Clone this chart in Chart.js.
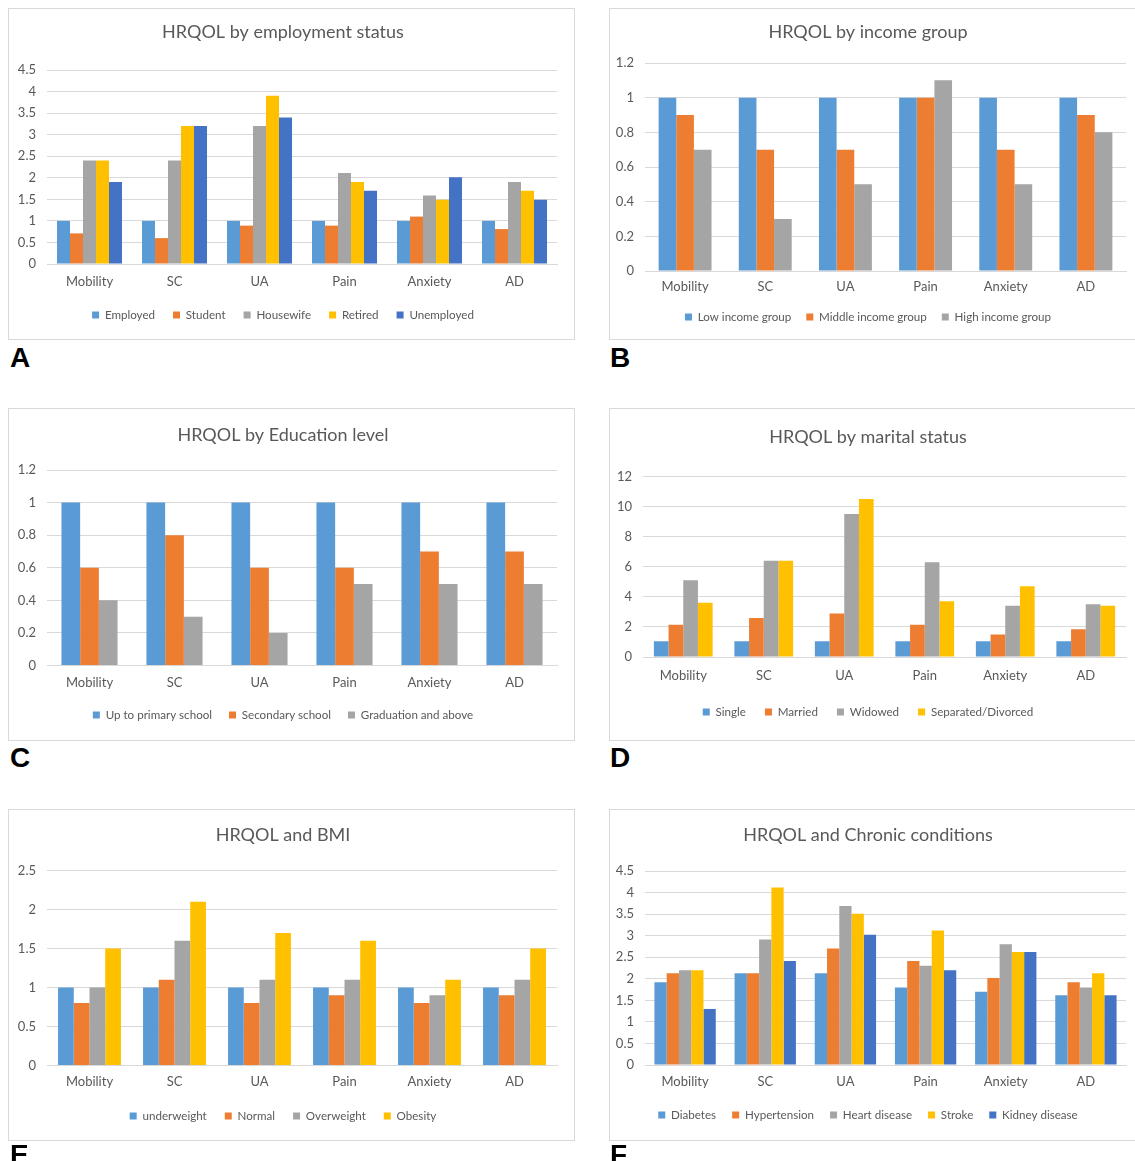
<!DOCTYPE html>
<html><head><meta charset="utf-8">
<script src="https://cdn.jsdelivr.net/npm/chart.js@4.4.0/dist/chart.umd.min.js"></script>
<style>
html,body{margin:0;padding:0;background:#fff;overflow:hidden;width:1135px;height:1161px;}
.panel{position:absolute;border:1px solid #d9d9d9;box-sizing:border-box;background:#fff;}
.panel canvas{display:block;}
.lab{position:absolute;font:bold 28px 'Liberation Sans',Arial,sans-serif;color:#000;line-height:28px;}
</style></head><body>
<div class="panel" id="pA"><canvas id="cA"></canvas></div>
<div class="panel" id="pB"><canvas id="cB"></canvas></div>
<div class="panel" id="pC"><canvas id="cC"></canvas></div>
<div class="panel" id="pD"><canvas id="cD"></canvas></div>
<div class="panel" id="pE"><canvas id="cE"></canvas></div>
<div class="panel" id="pF"><canvas id="cF"></canvas></div>
<div class="lab" style="left:10px;top:344px">A</div>
<div class="lab" style="left:610px;top:344px">B</div>
<div class="lab" style="left:10px;top:744px">C</div>
<div class="lab" style="left:610px;top:744px">D</div>
<div class="lab" style="left:10px;top:1141px">E</div>
<div class="lab" style="left:610px;top:1141px">F</div>
<script>
// ---------- data ----------
const categories = ['Mobility', 'SC', 'UA', 'Pain', 'Anxiety', 'AD'];

// A: employment status
const employmentGroups = ['Employed', 'Student', 'Housewife', 'Retired', 'Unemployed'];
const employed   = [1, 1, 1, 1, 1, 1];
const student    = [0.71, 0.6, 0.89, 0.89, 1.1, 0.81];
const housewife  = [2.4, 2.4, 3.2, 2.11, 1.59, 1.9];
const retired    = [2.4, 3.2, 3.9, 1.9, 1.49, 1.7];
const unemployed = [1.9, 3.2, 3.4, 1.7, 2.01, 1.49];
const ticksA = ['0', '0.5', '1', '1.5', '2', '2.5', '3', '3.5', '4', '4.5'];

// B: income group
const incomeGroups = ['Low income group', 'Middle income group', 'High income group'];
const lowIncome    = [1, 1, 1, 1, 1, 1];
const middleIncome = [0.9, 0.7, 0.7, 1, 0.7, 0.9];
const highIncome   = [0.7, 0.3, 0.5, 1.1, 0.5, 0.8];
const ticksB = ['0', '0.2', '0.4', '0.6', '0.8', '1', '1.2'];

// C: education level
const educationGroups = ['Up to primary school', 'Secondary school', 'Graduation and above'];
const primarySchool   = [1, 1, 1, 1, 1, 1];
const secondarySchool = [0.6, 0.8, 0.6, 0.6, 0.7, 0.7];
const graduation      = [0.4, 0.3, 0.2, 0.5, 0.5, 0.5];
const ticksC = ['0', '0.2', '0.4', '0.6', '0.8', '1', '1.2'];

// D: marital status
const maritalGroups = ['Single', 'Married', 'Widowed', 'Separated/Divorced'];
const single    = [1.05, 1.05, 1.05, 1.05, 1.05, 1.05];
const married   = [2.15, 2.6, 2.9, 2.15, 1.5, 1.85];
const widowed   = [5.1, 6.4, 9.5, 6.3, 3.4, 3.5];
const separated = [3.6, 6.4, 10.5, 3.7, 4.7, 3.4];
const ticksD = ['0', '2', '4', '6', '8', '10', '12'];

// E: BMI
const bmiGroups = ['underweight', 'Normal', 'Overweight', 'Obesity'];
const underweight = [1, 1, 1, 1, 1, 1];
const normalBmi   = [0.8, 1.1, 0.8, 0.9, 0.8, 0.9];
const overweight  = [1, 1.6, 1.1, 1.1, 0.9, 1.1];
const obesity     = [1.5, 2.1, 1.7, 1.6, 1.1, 1.5];
const ticksE = ['0', '0.5', '1', '1.5', '2', '2.5'];

// F: chronic conditions
const chronicGroups = ['Diabetes', 'Hypertension', 'Heart disease', 'Stroke', 'Kidney disease'];
const diabetes     = [1.92, 2.13, 2.13, 1.8, 1.7, 1.62];
const hypertension = [2.13, 2.13, 2.7, 2.41, 2.02, 1.92];
const heartDisease = [2.2, 2.91, 3.69, 2.3, 2.8, 1.8];
const stroke       = [2.2, 4.12, 3.51, 3.12, 2.62, 2.13];
const kidney       = [1.3, 2.41, 3.02, 2.2, 2.62, 1.62];
const ticksF = ['0', '0.5', '1', '1.5', '2', '2.5', '3', '3.5', '4', '4.5'];

// ---------- styling ----------
const BLUE = '#5B9BD5', ORANGE = '#ED7D31', GRAY = '#A5A5A5', GOLD = '#FFC000', DBLUE = '#4472C4';
const FONT = 'Lato, "Open Sans", sans-serif';
const TXT = '#595959';
const TITLE_SIZE = 18, TICK_SIZE = 13, LEG_SIZE = 11.6;

// page-space layout targets (box edges, plot edges, text centres, legend spacing)
const layouts = {
  A: {box: [8, 8, 575, 340], plot: [47, 70, 557, 264], titleY: 32.5, catY: 282, legendY: 315, legPad: 18},
  B: {box: [609, 8, 1145, 340], plot: [645, 63, 1126, 271], titleY: 32, catY: 287, legendY: 317, legPad: 15},
  C: {box: [8, 408, 575, 741], plot: [47, 470, 557, 665.5], titleY: 435, catY: 683, legendY: 715, legPad: 17},
  D: {box: [609, 408, 1145, 741], plot: [643, 476.5, 1126, 657], titleY: 437, catY: 676, legendY: 712, legPad: 19},
  E: {box: [8, 809, 575, 1141], plot: [47, 870.5, 557, 1065.5], titleY: 835, catY: 1082, legendY: 1116, legPad: 18},
  F: {box: [609, 809, 1145, 1141], plot: [645, 871, 1126, 1065], titleY: 835, catY: 1082, legendY: 1115, legPad: 16}
};

function build(key, title, names, series, colors, yMax, step, tickLabels, catPct) {
  const L = layouts[key];
  const [bx0, by0, bx1, by1] = L.box;
  const panel = document.getElementById('p' + key);
  panel.style.left = bx0 + 'px'; panel.style.top = by0 + 'px';
  panel.style.width = (bx1 - bx0) + 'px'; panel.style.height = (by1 - by0) + 'px';
  const ox = bx0 + 1, oy = by0 + 1;
  const W = bx1 - bx0 - 2, H = by1 - by0 - 2;
  const [px0, py0, px1, py1] = L.plot;
  const LP = L.legPad;
  const tLH = TITLE_SIZE * 1.2;
  const tTop = (L.titleY - oy) - tLH / 2;
  const tBot = (py0 - oy) - tTop - tLH;
  const legH = LEG_SIZE + LP + 10;
  const legTop = (L.legendY - oy) - (LP + LEG_SIZE / 2);
  const padB = H - legTop - legH;
  const xH = legTop - (py1 - oy);
  const yW = px0 - ox;
  const padR = W - (px1 - ox);
  const xPad = (L.catY - py1) - TICK_SIZE * 1.2 / 2;

  const canvas = document.getElementById('c' + key);
  new Chart(canvas, {
    type: 'bar',
    data: {
      labels: categories,
      datasets: names.map((n, i) => ({
        label: n, data: series[i], backgroundColor: colors[i], borderWidth: 0,
        categoryPercentage: catPct, barPercentage: 1
      }))
    },
    options: {
      responsive: true, maintainAspectRatio: false, animation: false,
      devicePixelRatio: 1,
      layout: {padding: {left: 0, top: 0, right: padR, bottom: padB}},
      plugins: {
        title: {display: true, text: title, color: TXT,
          font: {family: FONT, size: TITLE_SIZE, weight: 'normal'},
          padding: {top: tTop, bottom: tBot}},
        legend: {position: 'bottom',
          labels: {boxWidth: 7, boxHeight: 7, padding: LP, color: TXT,
            font: {family: FONT, size: LEG_SIZE}}},
        tooltip: {enabled: false}
      },
      scales: {
        x: {
          grid: {display: false, drawTicks: false},
          border: {display: true, color: '#d9d9d9'},
          ticks: {color: TXT, font: {family: FONT, size: TICK_SIZE}, padding: xPad, maxRotation: 0},
          afterFit: s => { s.height = xH; }
        },
        y: {
          min: 0, max: yMax,
          grid: {color: '#d9d9d9', drawTicks: false},
          border: {display: false},
          ticks: {stepSize: step, color: TXT, font: {family: FONT, size: TICK_SIZE}, padding: 11,
            callback: (v, i) => tickLabels[i]},
          afterFit: s => { s.width = yW; }
        }
      }
    }
  });
}

build('A', 'HRQOL by employment status', employmentGroups,
  [employed, student, housewife, retired, unemployed], [BLUE, ORANGE, GRAY, GOLD, DBLUE], 4.5, 0.5, ticksA, 0.765);
build('B', 'HRQOL by income group', incomeGroups,
  [lowIncome, middleIncome, highIncome], [BLUE, ORANGE, GRAY], 1.2, 0.2, ticksB, 0.66);
build('C', 'HRQOL by Education level', educationGroups,
  [primarySchool, secondarySchool, graduation], [BLUE, ORANGE, GRAY], 1.2, 0.2, ticksC, 0.66);
build('D', 'HRQOL by marital status', maritalGroups,
  [single, married, widowed, separated], [BLUE, ORANGE, GRAY, GOLD], 12, 2, ticksD, 0.73);
build('E', 'HRQOL and BMI', bmiGroups,
  [underweight, normalBmi, overweight, obesity], [BLUE, ORANGE, GRAY, GOLD], 2.5, 0.5, ticksE, 0.74);
build('F', 'HRQOL and Chronic conditions', chronicGroups,
  [diabetes, hypertension, heartDisease, stroke, kidney], [BLUE, ORANGE, GRAY, GOLD, DBLUE], 4.5, 0.5, ticksF, 0.765);
</script>
</body></html>
